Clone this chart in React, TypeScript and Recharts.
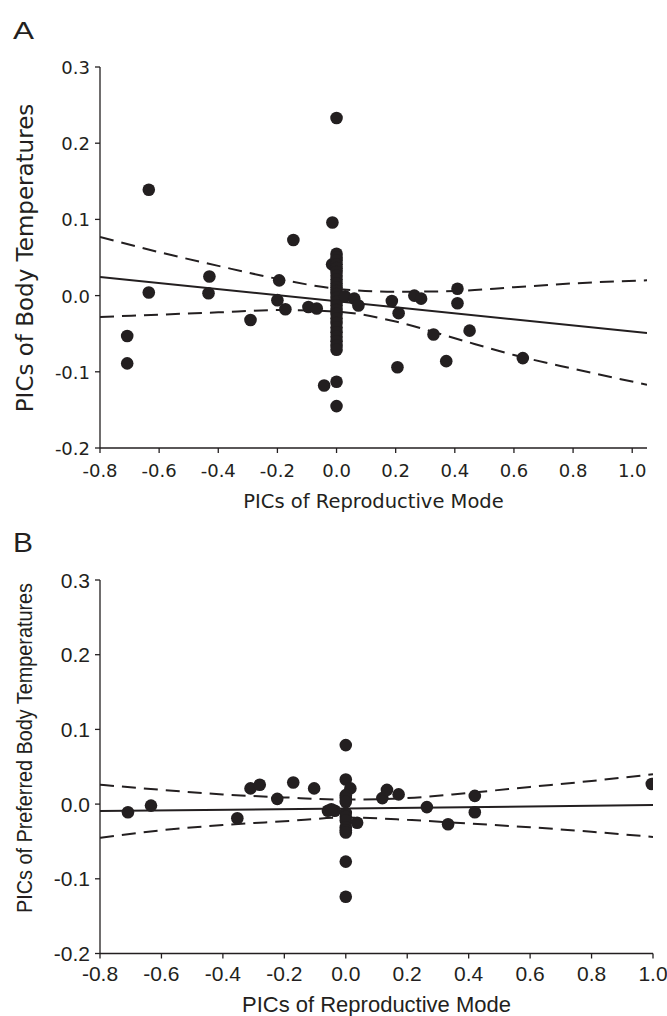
import React from 'react';
import { ComposedChart, Line, Scatter, XAxis, YAxis } from 'recharts';

const INK = '#231f20';
const DEJAVU = '"DejaVu Sans", sans-serif';
const LIBERATION = '"Liberation Sans", Arial, sans-serif';

const X_TICKS = [-0.8, -0.6, -0.4, -0.2, 0, 0.2, 0.4, 0.6, 0.8, 1.0];
const Y_TICKS = [-0.2, -0.1, 0, 0.1, 0.2, 0.3];

// Panel A: PICs of body temperatures vs reproductive mode
const bodyPoints = [
  { x: -0.708, y: -0.053 }, { x: -0.708, y: -0.089 }, { x: -0.635, y: 0.139 }, { x: -0.635, y: 0.004 },
  { x: -0.43, y: 0.025 }, { x: -0.433, y: 0.003 }, { x: -0.291, y: -0.032 }, { x: -0.194, y: 0.02 },
  { x: -0.2, y: -0.006 }, { x: -0.173, y: -0.018 }, { x: -0.146, y: 0.073 }, { x: -0.095, y: -0.015 },
  { x: -0.067, y: -0.017 }, { x: -0.042, y: -0.118 }, { x: -0.014, y: 0.096 }, { x: -0.015, y: 0.041 },
  { x: 0, y: 0.233 }, { x: 0, y: 0.055 }, { x: 0, y: 0.05 }, { x: 0, y: 0.046 }, { x: 0, y: 0.041 },
  { x: 0, y: 0.036 }, { x: 0, y: 0.031 }, { x: 0, y: 0.026 }, { x: 0, y: 0.021 }, { x: 0, y: 0.016 },
  { x: 0, y: 0.011 }, { x: 0, y: 0.006 }, { x: 0, y: 0.002 }, { x: 0, y: -0.003 }, { x: 0, y: -0.008 },
  { x: 0, y: -0.013 }, { x: 0, y: -0.019 }, { x: 0, y: -0.024 }, { x: 0, y: -0.03 }, { x: 0, y: -0.036 },
  { x: 0, y: -0.042 }, { x: 0, y: -0.048 }, { x: 0, y: -0.054 }, { x: 0, y: -0.06 }, { x: 0, y: -0.066 },
  { x: 0, y: -0.071 }, { x: 0, y: -0.113 }, { x: 0, y: -0.145 },
  { x: 0.029, y: -0.001 }, { x: 0.06, y: -0.004 }, { x: 0.074, y: -0.013 }, { x: 0.187, y: -0.007 },
  { x: 0.21, y: -0.023 }, { x: 0.206, y: -0.094 }, { x: 0.263, y: 0.0 }, { x: 0.286, y: -0.004 },
  { x: 0.328, y: -0.051 }, { x: 0.371, y: -0.086 }, { x: 0.409, y: 0.009 }, { x: 0.409, y: -0.01 },
  { x: 0.45, y: -0.046 }, { x: 0.63, y: -0.082 },
];
const bodyFit = [{ x: -0.8, y: 0.0245 }, { x: 1.05, y: -0.049 }];
const bodyUpper = [
  { x: -0.8, y: 0.077 }, { x: -0.6, y: 0.057 }, { x: -0.4, y: 0.039 }, { x: -0.2, y: 0.022 },
  { x: 0, y: 0.009 }, { x: 0.2, y: 0.005 }, { x: 0.4, y: 0.006 }, { x: 0.6, y: 0.011 },
  { x: 0.8, y: 0.016 }, { x: 1.05, y: 0.02 },
];
const bodyLower = [
  { x: -0.8, y: -0.028 }, { x: -0.6, y: -0.025 }, { x: -0.4, y: -0.022 }, { x: -0.2, y: -0.019 },
  { x: 0, y: -0.021 }, { x: 0.2, y: -0.034 }, { x: 0.4, y: -0.056 }, { x: 0.6, y: -0.078 },
  { x: 0.8, y: -0.096 }, { x: 1.05, y: -0.117 },
];

// Panel B: PICs of preferred body temperatures vs reproductive mode
const prefPoints = [
  { x: -0.709, y: -0.011 }, { x: -0.634, y: -0.002 }, { x: -0.353, y: -0.019 }, { x: -0.31, y: 0.021 },
  { x: -0.28, y: 0.026 }, { x: -0.223, y: 0.007 }, { x: -0.171, y: 0.029 }, { x: -0.103, y: 0.021 },
  { x: -0.058, y: -0.009 }, { x: -0.036, y: -0.009 }, { x: -0.047, y: -0.007 },
  { x: 0, y: 0.079 }, { x: 0, y: 0.033 }, { x: 0.015, y: 0.021 }, { x: 0, y: 0.012 }, { x: 0, y: 0.008 },
  { x: 0, y: 0.003 }, { x: 0, y: -0.012 }, { x: 0, y: -0.017 }, { x: 0, y: -0.022 }, { x: 0, y: -0.031 },
  { x: 0, y: -0.035 }, { x: 0, y: -0.038 }, { x: 0.037, y: -0.025 }, { x: 0, y: -0.077 }, { x: 0, y: -0.124 },
  { x: 0.119, y: 0.008 }, { x: 0.134, y: 0.019 }, { x: 0.172, y: 0.013 }, { x: 0.264, y: -0.004 },
  { x: 0.333, y: -0.027 }, { x: 0.42, y: 0.011 }, { x: 0.42, y: -0.011 }, { x: 0.996, y: 0.027 },
];
const prefFit = [{ x: -0.8, y: -0.0094 }, { x: 1.0, y: -0.0013 }];
const prefUpper = [
  { x: -0.8, y: 0.026 }, { x: -0.6, y: 0.019 }, { x: -0.4, y: 0.013 }, { x: -0.2, y: 0.009 },
  { x: 0, y: 0.006 }, { x: 0.2, y: 0.008 }, { x: 0.4, y: 0.015 }, { x: 0.6, y: 0.023 },
  { x: 0.8, y: 0.031 }, { x: 1.0, y: 0.04 },
];
const prefLower = [
  { x: -0.8, y: -0.045 }, { x: -0.6, y: -0.035 }, { x: -0.4, y: -0.028 }, { x: -0.2, y: -0.023 },
  { x: 0, y: -0.018 }, { x: 0.2, y: -0.021 }, { x: 0.4, y: -0.026 }, { x: 0.6, y: -0.031 },
  { x: 0.8, y: -0.037 }, { x: 1.0, y: -0.044 },
];

const fmt = (v: number) => (Math.abs(v) < 1e-9 ? '0.0' : v.toFixed(1));

const xTick = (family: string, size: number, dy: number) => (p: any) => (
  <text x={p.x} y={p.y + dy} textAnchor="middle" fontFamily={family} fontSize={size} fill={INK}>
    {fmt(p.payload.value)}
  </text>
);

const yTick = (family: string, size: number, dy: number) => (p: any) => (
  <text x={p.x - 5} y={p.y + dy} textAnchor="end" fontFamily={family} fontSize={size} fill={INK}>
    {fmt(p.payload.value)}
  </text>
);

// recharts passes its own x/y/fontSize into a label element, so use other prop names
function XTitle({ text, mid, base, face, em }: any) {
  return (
    <text x={mid} y={base} textAnchor="middle" fontFamily={face} fontSize={em} fill={INK}>{text}</text>
  );
}

function YTitle({ text, base, mid, face, em, span }: any) {
  return (
    <text transform={`translate(${base},${mid}) rotate(-90)`} x={0} y={0} textAnchor="middle"
      fontFamily={face} fontSize={em} fill={INK}
      textLength={span} lengthAdjust={span ? 'spacingAndGlyphs' : undefined}>
      {text}
    </text>
  );
}

const Dot = (p: any) => <circle cx={p.cx} cy={p.cy} r={6.3} fill={INK} />;

function Panel({ top, height, plotTop, plotBottom, right, xMax, points, fit, upper, lower, tickFont, tickSize,
  xTickDy, yTickDy, xTitle, yTitle }: any) {
  const axisStyle = { stroke: INK, strokeWidth: 1.3 };
  return (
    <div style={{ position: 'absolute', left: 0, top, width: 667, height }}>
      <ComposedChart width={667} height={height} margin={{ top: plotTop, right, bottom: 0, left: 0 }}>
        <XAxis type="number" dataKey="x" domain={[-0.8, xMax]} ticks={X_TICKS} allowDataOverflow
          height={height - plotBottom} tickSize={5} tickMargin={0} axisLine={axisStyle} tickLine={axisStyle}
          tick={xTick(tickFont, tickSize, xTickDy)} label={xTitle} />
        <YAxis type="number" dataKey="y" domain={[-0.2, 0.3]} ticks={Y_TICKS} allowDataOverflow
          width={100} tickSize={5} tickMargin={0} axisLine={axisStyle} tickLine={axisStyle}
          tick={yTick(tickFont, tickSize, yTickDy)} label={yTitle} />
        <Line data={upper} dataKey="y" type="monotone" stroke={INK} strokeWidth={2} strokeDasharray="14 8"
          dot={false} activeDot={false} isAnimationActive={false} />
        <Line data={lower} dataKey="y" type="monotone" stroke={INK} strokeWidth={2} strokeDasharray="14 8"
          dot={false} activeDot={false} isAnimationActive={false} />
        <Line data={fit} dataKey="y" type="linear" stroke={INK} strokeWidth={2}
          dot={false} activeDot={false} isAnimationActive={false} />
        <Scatter data={points} dataKey="y" shape={Dot} isAnimationActive={false} />
      </ComposedChart>
    </div>
  );
}

function Letter({ text, left, base, em, span }: any) {
  return (
    <svg width={60} height={60} style={{ position: 'absolute', left: 0, top: base - 40 }}>
      <text x={left} y={40} fontFamily={LIBERATION} fontSize={em} fill={INK}
        textLength={span} lengthAdjust="spacingAndGlyphs">{text}</text>
    </svg>
  );
}

export default function App() {
  return (
    <div style={{ position: 'absolute', left: 0, top: 0, width: 667, height: 1016, overflow: 'hidden', background: '#fff' }}>
      <Panel
        top={0} height={520} plotTop={67} plotBottom={448} right={20} xMax={1.05}
        points={bodyPoints} fit={bodyFit} upper={bodyUpper} lower={bodyLower}
        tickFont={DEJAVU} tickSize={18} xTickDy={23.5} yTickDy={7}
        xTitle={<XTitle text="PICs of Reproductive Mode" mid={373.5} base={508} face={DEJAVU} em={19.5} />}
        yTitle={<YTitle text="PICs of Body Temperatures" base={33} mid={258} face={DEJAVU} em={23} />}
      />
      <Panel
        top={520} height={496} plotTop={60} plotBottom={433.5} right={14} xMax={1.0}
        points={prefPoints} fit={prefFit} upper={prefUpper} lower={prefLower}
        tickFont={LIBERATION} tickSize={21} xTickDy={22.2} yTickDy={7.5}
        xTitle={<XTitle text="PICs of Reproductive Mode" mid={376.5} base={492} face={LIBERATION} em={22} />}
        yTitle={<YTitle text="PICs of Preferred Body Temperatures" base={32} mid={228} face={LIBERATION} em={22} span={330} />}
      />
      <Letter text="A" left={13} base={39} em={23} span={21} />
      <Letter text="B" left={13} base={552} em={28} span={20} />
    </div>
  );
}
